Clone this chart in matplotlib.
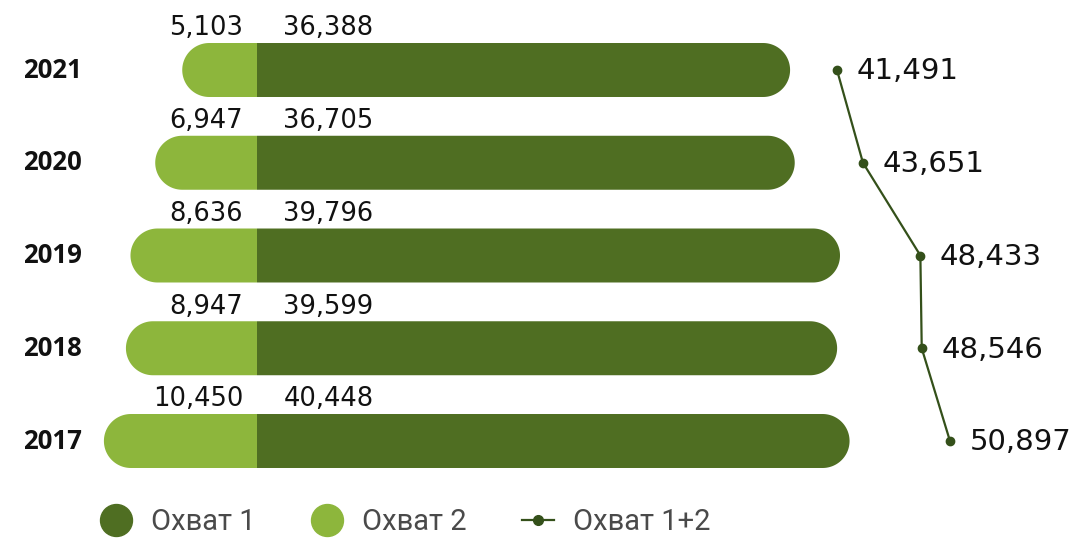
import matplotlib
matplotlib.use("Agg")
import numpy as np
import matplotlib.pyplot as plt
from matplotlib.lines import Line2D
from matplotlib.patches import Polygon
from matplotlib.transforms import blended_transform_factory

years = ["2021", "2020", "2019", "2018", "2017"]
reach1 = [36388, 36705, 39796, 39599, 40448]   # Охват 1 (dark)
reach2 = [5103, 6947, 8636, 8947, 10450]       # Охват 2 (light)
totals = [41491, 43651, 48433, 48546, 50897]   # Охват 1+2
legend_labels = ["Охват 1", "Охват 2", "Охват 1+2"]

DARK = "#4f6e22"
LIGHT = "#8db63c"
LINE = "#34501a"
TXT = "#111111"

W, H, DPI = 1078, 538, 100
fig = plt.figure(figsize=(W / DPI, H / DPI), dpi=DPI)
fig.patch.set_facecolor("white")

ax = fig.add_axes([0, 0, 1, 1])
ax.set_axis_off()
px_per_k = 14.65
center_px = 257
ax.set_xlim(-center_px / px_per_k * 1000, (W - center_px) / px_per_k * 1000)
spacing = 92.75
top_px = 70
ax.set_ylim((H - top_px) / spacing, -top_px / spacing)

ypos = list(range(len(years)))
bar_h = 0.582
hh = bar_h / 2
bar_h_px = bar_h * spacing
r = (bar_h_px / 2) / px_per_k * 1000


def pill(x_flat, x_round, y, side):
    """Bar with a square end at x_flat and a round end at x_round."""
    c = x_round - side * r
    t = np.linspace(-np.pi / 2, np.pi / 2, 60)
    arc_x = c + side * r * np.cos(t)
    arc_y = y + hh * np.sin(t) * side
    pts = [(x_flat, y - hh * side)] + list(zip(arc_x, arc_y)) + [(x_flat, y + hh * side)]
    return pts


for y, v1, v2 in zip(ypos, reach1, reach2):
    ax.add_patch(Polygon(pill(0, -v2, y, -1), closed=True, facecolor=LIGHT,
                         edgecolor="none", zorder=2))
    ax.add_patch(Polygon(pill(0, v1, y, 1), closed=True, facecolor=DARK,
                         edgecolor="none", zorder=3))
    ax.annotate(f"{v2:,}", (0, y), xytext=(-10, 30), textcoords="offset points",
                ha="right", va="center", fontsize=18.5, color=TXT,
                family="DejaVu Sans")
    ax.annotate(f"{v1:,}", (0, y), xytext=(19, 30), textcoords="offset points",
                ha="left", va="center", fontsize=18.5, color=TXT,
                family="DejaVu Sans")

trans = blended_transform_factory(ax.transAxes, ax.transData)
for y, yr in zip(ypos, years):
    ax.text(82 / W, y, yr, transform=trans, ha="right", va="center",
            fontsize=18.5, fontweight="bold", color=TXT,
            family=["Open Sans", "DejaVu Sans"])

# total line on its own scale
ax2 = fig.add_axes([0, 0, 1, 1], frameon=False)
ax2.set_axis_off()
lpx = 12.01
left = totals[0] - 837 / lpx * 1000
ax2.set_xlim(left, left + W / lpx * 1000)
ax2.set_ylim(ax.get_ylim())
ax2.plot(totals, ypos, color=LINE, lw=1.6, marker="o", ms=6, zorder=4)
for y, t in zip(ypos, totals):
    ax2.annotate(f"{t:,}", (t, y), xytext=(14, -1), textcoords="offset points",
                 ha="left", va="center", fontsize=21, color=TXT,
                 family="DejaVu Sans")

handles = [
    Line2D([], [], ls="none", marker="o", ms=23, color=DARK),
    Line2D([], [], ls="none", marker="o", ms=23, color=LIGHT),
    Line2D([], [], color=LINE, lw=1.6, marker="o", ms=7),
]
leg = fig.legend(handles, legend_labels, loc="center left",
                 bbox_to_anchor=(100 / W, 16 / H), ncol=3, frameon=False,
                 borderpad=0, borderaxespad=0, handlelength=1.1,
                 handletextpad=0.65, columnspacing=1.9, numpoints=1,
                 prop={"family": ["Roboto", "DejaVu Sans"], "size": 21})
for t in leg.get_texts():
    t.set_color("#4a4a4a")

fig.savefig("out.png", dpi=DPI, facecolor="white")
